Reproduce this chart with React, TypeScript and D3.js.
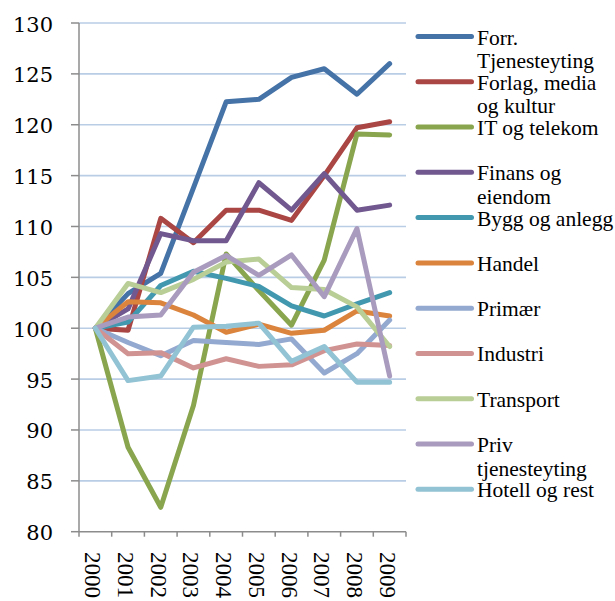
import React from "react";
import * as d3 from "d3";

const years = ["2000", "2001", "2002", "2003", "2004", "2005", "2006", "2007", "2008", "2009"];
const yTicks = [80, 85, 90, 95, 100, 105, 110, 115, 120, 125, 130];

const names = [
  ["Forr.", "Tjenesteyting"],
  ["Forlag, media", "og kultur"],
  ["IT og telekom"],
  ["Finans og", "eiendom"],
  ["Bygg og anlegg"],
  ["Handel"],
  ["Primær"],
  ["Industri"],
  ["Transport"],
  ["Priv", "tjenesteyting"],
  ["Hotell og rest"],
];
const colors = [
  "#4572A7", "#AA4643", "#89A54E", "#71588F", "#4198AF", "#DB843D",
  "#93A9CF", "#D19392", "#B9CD96", "#A99BBD", "#92C3D4",
];

const forr = [100, 103.4, 105.4, 113.8, 122.25, 122.5, 124.65, 125.5, 123.0, 126.0];
const forlag = [100, 99.8, 110.8, 108.4, 111.6, 111.6, 110.6, 115.0, 119.7, 120.3];
const it = [100, 88.3, 82.4, 92.4, 107.3, 103.7, 100.3, 106.7, 119.1, 119.0];
const finans = [100, 101.9, 109.3, 108.6, 108.6, 114.3, 111.6, 115.2, 111.6, 112.1];
const bygg = [100, 100.6, 104.2, 105.6, 104.9, 104.1, 102.2, 101.2, 102.4, 103.5];
const handel = [100, 102.6, 102.5, 101.3, 99.6, 100.4, 99.5, 99.8, 101.7, 101.2];
const primaer = [100, 98.6, 97.3, 98.8, 98.6, 98.4, 98.95, 95.6, 97.5, 100.8];
const industri = [100, 97.5, 97.6, 96.1, 97.0, 96.25, 96.4, 97.8, 98.45, 98.3];
const transport = [100, 104.4, 103.5, 104.8, 106.5, 106.8, 104.0, 103.8, 102.1, 98.2];
const priv = [100, 101.1, 101.3, 105.5, 107.15, 105.2, 107.2, 103.1, 109.8, 95.3];
const hotell = [100, 94.85, 95.3, 100.1, 100.2, 100.5, 96.75, 98.2, 94.7, 94.7];

const series = [forr, forlag, it, finans, bygg, handel, primaer, industri, transport, priv, hotell];

export default function App() {
  const x0 = 79, x1 = 406, yTop = 23, yBot = 531.7;
  const x = d3.scaleBand<string>().domain(years).range([x0, x1]);
  const y = d3.scaleLinear().domain([80, 130]).range([yBot, yTop]);
  const line = d3
    .line<number>()
    .x((_, i) => (x(years[i]) as number) + x.bandwidth() / 2)
    .y((d) => y(d));

  const legendY = d3.scaleLinear().domain([0, 10]).range([36.5, 489.3]);

  return (
    <svg width={615} height={601} style={{ position: "absolute", left: 0, top: 0, background: "#fff" }}>
      {/* gridlines */}
      {yTicks.filter((t) => t > 80).map((t) => (
        <line key={"g" + t} x1={x0} x2={x1} y1={y(t)} y2={y(t)} stroke="#B9CDE5" strokeWidth={1.6} />
      ))}
      {/* y axis */}
      <line x1={x0} x2={x0} y1={yTop} y2={yBot} stroke="#8C8C8C" strokeWidth={1.5} />
      {yTicks.map((t) => (
        <g key={"y" + t}>
          <line x1={71} x2={x0} y1={y(t)} y2={y(t)} stroke="#8C8C8C" strokeWidth={1.5} />
          <text x={53} y={y(t) + 8.5} textAnchor="end" fontFamily="DejaVu Serif" fontSize={21} fill="#000">
            {t}
          </text>
        </g>
      ))}
      {/* x axis */}
      <line x1={x0} x2={x1} y1={yBot} y2={yBot} stroke="#8C8C8C" strokeWidth={1.5} />
      {years.map((yr) => (
        <line key={"t" + yr} x1={x(yr) as number} x2={x(yr) as number} y1={yBot} y2={yBot + 5} stroke="#8C8C8C" strokeWidth={1.5} />
      ))}
      <line x1={x1} x2={x1} y1={yBot} y2={yBot + 5} stroke="#8C8C8C" strokeWidth={1.5} />
      {years.map((yr) => {
        const cx = (x(yr) as number) + x.bandwidth() / 2;
        return (
          <text
            key={"xl" + yr}
            transform={`translate(${cx - 10},552) rotate(90)`}
            fontFamily="Liberation Serif"
            fontSize={23}
            fill="#000"
          >
            {yr}
          </text>
        );
      })}
      {/* series */}
      {series.map((s, i) => (
        <path
          key={"s" + i}
          d={line(s) as string}
          fill="none"
          stroke={colors[i]}
          strokeWidth={5}
          strokeLinejoin="round"
          strokeLinecap="round"
        />
      ))}
      {/* legend */}
      {names.map((n, i) => {
        const ly = legendY(i);
        return (
          <g key={"l" + i}>
            <line x1={418} x2={471.5} y1={ly} y2={ly} stroke={colors[i]} strokeWidth={5} strokeLinecap="round" />
            {n.map((t, j) => (
              <text key={j} x={477} y={ly + 8 + j * 23.5} fontFamily="Liberation Serif" fontSize={21.5} fill="#000">
                {t}
              </text>
            ))}
          </g>
        );
      })}
    </svg>
  );
}
